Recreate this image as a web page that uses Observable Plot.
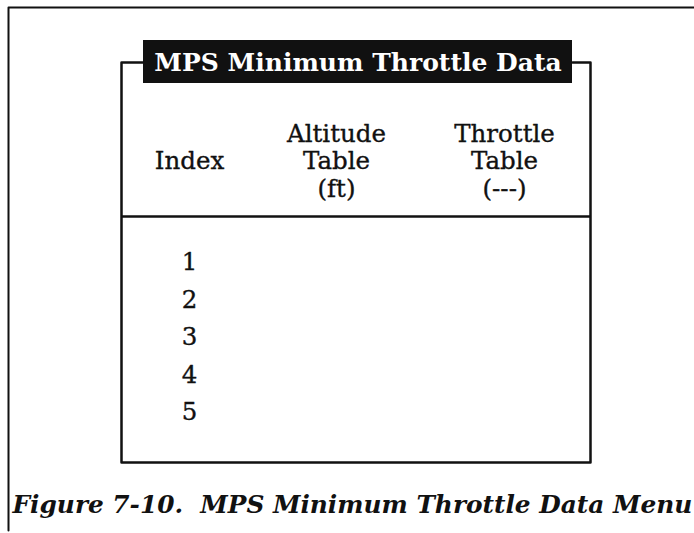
<!DOCTYPE html>
<html>
<head>
<meta charset="utf-8">
<script src="https://cdn.jsdelivr.net/npm/d3@7"></script>
<script src="https://cdn.jsdelivr.net/npm/@observablehq/plot@0.6"></script>
<style>
  html, body { margin: 0; padding: 0; background: #fff; }
  #chart svg { display: block; }
</style>
</head>
<body>
<div id="chart"></div>
<script>
// ---- Data ----
const menuTitle = "MPS Minimum Throttle Data";
const columnKeys = ["Index", "Altitude", "Throttle"];
const columnHeaders = ["Index", "Altitude\nTable\n(ft)", "Throttle\nTable\n(---)"];
const indexValues = [1, 2, 3, 4, 5];
const figureCaption = "Figure 7-10.  MPS Minimum Throttle Data Menu";

// ---- Layout (page geometry, px) ----
const W = 694, H = 533;
const box = {left: 121, right: 590, top: 62, sep: 216, bottom: 462};
const titleBox = {x1: 143, x2: 572, y1: 40, y2: 83};
const colX = {Index: 189, Altitude: 336, Throttle: 504};
const headerMid = 160;
const rowTop = 262, rowStep = 37.5;

const headers = columnKeys.map((k, i) => ({key: k, label: columnHeaders[i]}));
const rows = indexValues.map((v, i) => ({v, y: rowTop + i * rowStep}));

const serif = "DejaVu Serif, Liberation Serif, serif";

const chart = Plot.plot({
  width: W,
  height: H,
  margin: 0,
  x: {domain: [0, W], range: [0, W], axis: null},
  y: {domain: [0, H], range: [0, H], axis: null},
  style: {background: "#fff", fontFamily: serif},
  marks: [
    // outer page frame (top + left)
    Plot.line([[8, 530], [8, 7], [W, 7]], {stroke: "#111", strokeWidth: 2}),
    // menu box with bracket ends beside the title
    Plot.line([[titleBox.x1, box.top], [box.left, box.top], [box.left, box.bottom],
               [box.right, box.bottom], [box.right, box.top], [titleBox.x2, box.top]],
              {stroke: "#111", strokeWidth: 2.5}),
    // header separator
    Plot.ruleY([box.sep], {x1: box.left, x2: box.right, stroke: "#111", strokeWidth: 2.5}),
    // title plate
    Plot.rect([titleBox], {x1: "x1", x2: "x2", y1: "y1", y2: "y2", fill: "#111"}),
    Plot.text([menuTitle], {
      x: (titleBox.x1 + titleBox.x2) / 2, y: (titleBox.y1 + titleBox.y2) / 2 + 1,
      text: d => d, fill: "#fff", fontWeight: "bold", fontSize: 25, fontFamily: serif
    }),
    // column headers
    Plot.text(headers, {
      x: d => colX[d.key], y: headerMid, text: "label",
      lineHeight: 1.12, fontSize: 24.5, fill: "#111", fontFamily: serif,
      stroke: "#111", strokeWidth: 0.35
    }),
    // index values
    Plot.text(rows, {
      x: colX.Index, y: "y", text: d => String(d.v),
      fontSize: 24.5, fill: "#111", fontFamily: serif,
      stroke: "#111", strokeWidth: 0.35
    }),
    // figure caption
    Plot.text([figureCaption], {
      x: 12, y: 505, text: d => d, textAnchor: "start",
      fontSize: 24.8, fontWeight: "bold", fontStyle: "italic", fill: "#111", fontFamily: serif
    })
  ]
});

document.getElementById("chart").appendChild(chart);
</script>
</body>
</html>
